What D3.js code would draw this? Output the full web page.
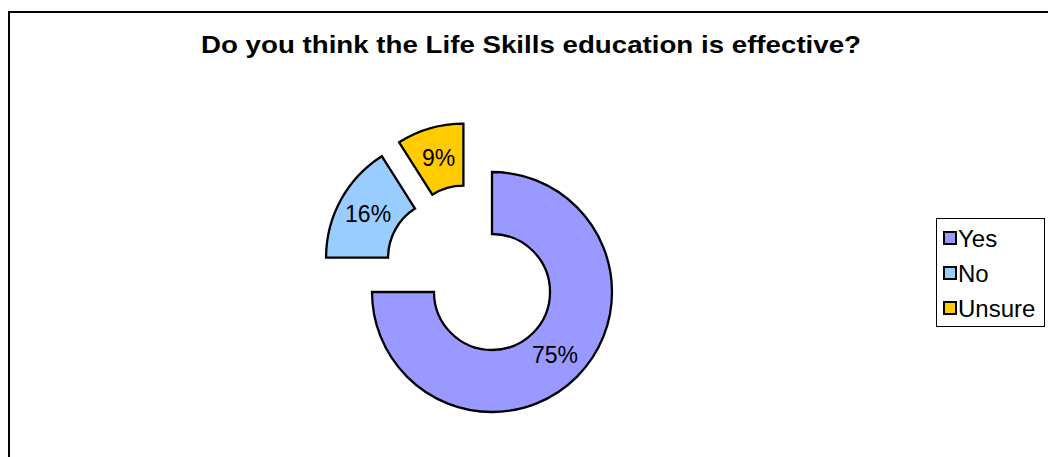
<!DOCTYPE html>
<html>
<head>
<meta charset="utf-8">
<script src="https://cdn.jsdelivr.net/npm/d3@7/dist/d3.min.js"></script>
<style>
  html, body { margin: 0; padding: 0; background: #fff; }
  svg { display: block; }
  text { font-family: "Liberation Sans", Arial, sans-serif; }
</style>
</head>
<body>
<svg id="chart" width="1048" height="457"></svg>
<script>
// Survey answers and their shares (percent)
const categories = ["Yes", "No", "Unsure"];
const values = [75, 16, 9];
const colors = ["#9999FF", "#99CCFF", "#FFCC00"];
const title = "Do you think the Life Skills education is effective?";

const W = 1048, H = 457;
const svg = d3.select("#chart");

// Outer chart frame (runs off the right and bottom edges)
svg.append("rect")
  .attr("x", 9).attr("y", 12)
  .attr("width", W + 20).attr("height", H + 20)
  .attr("fill", "#fff").attr("stroke", "#000").attr("stroke-width", 2);

svg.append("text")
  .attr("x", 531).attr("y", 53)
  .attr("text-anchor", "middle")
  .attr("font-size", 24).attr("font-weight", "bold")
  .attr("textLength", 660).attr("lengthAdjust", "spacingAndGlyphs")
  .text(title);

// Donut geometry
const cx = 471.5, cy = 271.5;
const outerR = 120, innerR = 58, explode = 29;

const pie = d3.pie().sort(null).value(d => d)(values);
const arc = d3.arc().innerRadius(innerR).outerRadius(outerR);
const labelArc = d3.arc().innerRadius((innerR + outerR) / 2).outerRadius((innerR + outerR) / 2);

const g = svg.append("g").attr("transform", `translate(${cx},${cy})`);

const slices = g.selectAll("g.slice")
  .data(pie)
  .join("g")
  .attr("class", "slice")
  .attr("transform", d => {
    const a = (d.startAngle + d.endAngle) / 2;
    return `translate(${explode * Math.sin(a)},${-explode * Math.cos(a)})`;
  });

slices.append("path")
  .attr("d", arc)
  .attr("fill", (d, i) => colors[i])
  .attr("stroke", "#000")
  .attr("stroke-width", 2.3)
  .attr("stroke-linejoin", "miter");

slices.append("text")
  .attr("transform", d => `translate(${labelArc.centroid(d)})`)
  .attr("text-anchor", "middle")
  .attr("dy", "0.34em")
  .attr("font-size", 23)
  .text(d => d.value + "%");

// Legend
const legend = svg.append("g");
legend.append("rect")
  .attr("x", 936.5).attr("y", 218.5)
  .attr("width", 108).attr("height", 108)
  .attr("fill", "#fff").attr("stroke", "#000").attr("stroke-width", 1);

const items = legend.selectAll("g.item")
  .data(categories)
  .join("g")
  .attr("class", "item")
  .attr("transform", (d, i) => `translate(0,${238 + i * 35})`);

items.append("rect")
  .attr("x", 944).attr("y", -6)
  .attr("width", 12).attr("height", 12)
  .attr("fill", (d, i) => colors[i])
  .attr("stroke", "#000").attr("stroke-width", 2);

items.append("text")
  .attr("x", 958).attr("dy", "0.36em")
  .attr("font-size", 24)
  .text(d => d);
</script>
</body>
</html>
